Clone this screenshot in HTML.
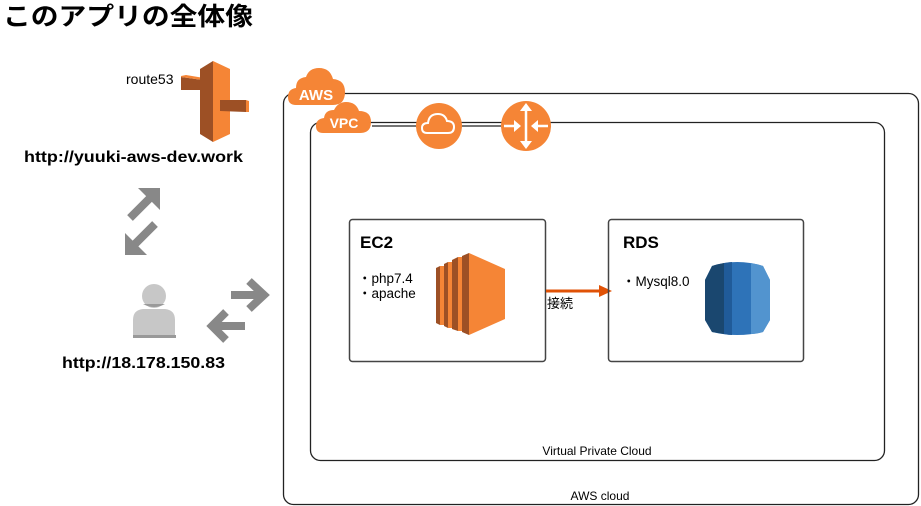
<!DOCTYPE html>
<html><head><meta charset="utf-8"><style>
html,body{margin:0;padding:0;background:#fff;}
svg{display:block;font-family:"Liberation Sans","Noto Sans CJK JP",sans-serif;}
</style></head><body>
<svg width="921" height="506" viewBox="0 0 921 506" xmlns="http://www.w3.org/2000/svg">
<text x="3" y="25" font-size="25" font-weight="bold" fill="#000" textLength="250" lengthAdjust="spacingAndGlyphs">このアプリの全体像</text>

<!-- route53 -->
<text x="126" y="84" font-size="14" fill="#000">route53</text>
<polygon points="181,77 210,81 210,90 181,90" fill="#9d5025"/>
<polygon points="181,76 186,75 210,79 210,81 181,77" fill="#f58536"/>
<polygon points="200,69 213,61 213,142 200,134" fill="#9d5025"/>
<polygon points="213,61 230,69 230,134 213,142" fill="#f58536"/>
<polygon points="220,100 246,100 246,112 220,111" fill="#9d5025"/>
<polygon points="246,100 249,101 249,112 246,112" fill="#f58536"/>
<text x="24" y="162" font-size="16" font-weight="bold" fill="#000" textLength="219" lengthAdjust="spacingAndGlyphs">http://yuuki-aws-dev.work</text>

<!-- diagonal arrows -->
<g fill="#888" stroke="#888">
<line x1="130" y1="218" x2="151" y2="197" stroke-width="8"/>
<polygon points="138,188 160,188 160,210" stroke="none"/>
<line x1="155" y1="224" x2="134" y2="245" stroke-width="8"/>
<polygon points="125,233 125,255 147,255" stroke="none"/>
</g>

<!-- user -->
<circle cx="154" cy="296" r="12" fill="#c7c7c7"/>
<path d="M143,304 q11,6 22,0" fill="#9a9a9a"/>
<path d="M133,338 v-18 q0,-10 10,-11 h22 q10,1 10,11 v18 z" fill="#c7c7c7"/>
<rect x="133" y="335" width="43" height="3" fill="#999"/>
<text x="62" y="368" font-size="16" font-weight="bold" fill="#000" textLength="163" lengthAdjust="spacingAndGlyphs">http://18.178.150.83</text>

<!-- horizontal arrows -->
<g fill="none" stroke="#888" stroke-width="8">
<line x1="231" y1="295" x2="262" y2="295"/>
<polyline points="249,281 264,295 249,309" stroke-linejoin="miter"/>
<line x1="245" y1="326" x2="214" y2="326"/>
<polyline points="226,312 212,326 226,340" stroke-linejoin="miter"/>
</g>

<!-- AWS cloud box -->
<rect x="283.5" y="93.5" width="635" height="411" rx="10" fill="none" stroke="#222" stroke-width="1.3"/>
<text x="600" y="500" font-size="12" text-anchor="middle" fill="#000">AWS cloud</text>
<!-- AWS icon -->
<path d="M296,105 q-8,0 -8,-8 q0,-8 8,-9 q0,-10 10,-11 q3,-9 13,-9 q11,0 14,11 q12,1 12,13 q0,13 -12,13 z" fill="#f58536"/>
<text x="316" y="100" font-size="15" font-weight="bold" text-anchor="middle" fill="#fff">AWS</text>

<!-- VPC box -->
<rect x="310.5" y="122.5" width="574" height="338" rx="10" fill="#fff" stroke="#222" stroke-width="1.3"/>
<text x="597" y="455" font-size="12" text-anchor="middle" fill="#000">Virtual Private Cloud</text>
<path d="M323,133 q-7,0 -7,-7 q0,-7 8,-8 q1,-8 10,-8 q4,-8 12,-8 q10,0 13,9 q12,0 12,11 q0,11 -11,11 z" fill="#f58536"/>
<text x="344" y="128" font-size="14" font-weight="bold" text-anchor="middle" fill="#fff">VPC</text>
<line x1="372" y1="126" x2="416" y2="126" stroke="#222" stroke-width="1.3"/>
<line x1="462" y1="126" x2="501" y2="126" stroke="#222" stroke-width="1.3"/>
<circle cx="439" cy="126" r="23" fill="#f58536"/>
<path d="M427,133 q-5,0 -5,-5 q0,-5 6,-5 q1,-9 10,-9 q7,0 9,7 q7,0 7,6 q0,6 -6,6 z" fill="none" stroke="#fff" stroke-width="2"/>
<circle cx="526" cy="126" r="25" fill="#f58536"/>
<g stroke="#fff" stroke-width="2.5" fill="#fff">
<line x1="526" y1="106" x2="526" y2="146"/>
<polygon points="520,111 526,103 532,111" stroke="none"/>
<polygon points="520,141 526,149 532,141" stroke="none"/>
<line x1="504" y1="126" x2="516" y2="126"/>
<polygon points="514,120 521,126 514,132" stroke="none"/>
<line x1="536" y1="126" x2="548" y2="126"/>
<polygon points="538,120 531,126 538,132" stroke="none"/>
</g>

<!-- EC2 box -->
<rect x="349.5" y="219.5" width="196" height="142" rx="3" fill="none" stroke="#444" stroke-width="1.5"/>
<text x="360" y="248" font-size="17" font-weight="bold" fill="#000">EC2</text>
<text x="358" y="283" font-size="13.5" fill="#000">・php7.4</text>
<text x="358" y="298" font-size="13.5" fill="#000">・apache</text>
<g>
<polygon points="436,268 440,266 440,325 436,323" fill="#9d5025"/>
<polygon points="440,266 444,266 444,325 440,325" fill="#f58536"/>
<polygon points="444,264 448,262 448,328 444,326" fill="#9d5025"/>
<polygon points="448,262 452,262 452,328 448,328" fill="#f58536"/>
<polygon points="452,260 458,257 458,331 452,329" fill="#9d5025"/>
<polygon points="458,257 462,257 462,331 458,331" fill="#f58536"/>
<polygon points="462,256 469,253 469,335 462,332" fill="#9d5025"/>
<polygon points="469,253 505,269 505,319 469,335" fill="#f58536"/>
</g>

<!-- connector -->
<line x1="546" y1="291" x2="600" y2="291" stroke="#e05206" stroke-width="3"/>
<polygon points="599,285 612,291 599,297" fill="#e05206"/>
<text x="547" y="308" font-size="13" fill="#000">接続</text>

<!-- RDS box -->
<rect x="608.5" y="219.5" width="195" height="142" rx="3" fill="none" stroke="#444" stroke-width="1.5"/>
<text x="623" y="248" font-size="17" font-weight="bold" fill="#000">RDS</text>
<text x="622" y="286" font-size="13.5" fill="#000">・Mysql8.0</text>
<g>
<path d="M712,266 q25,-8 51,0 l7,14 v40 l-7,12 q-26,6 -51,0 l-7,-12 v-40 z" fill="#2e73b8"/>
<path d="M712,266 q6,-2 12,-3 v71 q-6,-1 -12,-2 l-7,-12 v-40 z" fill="#1a476f"/>
<path d="M724,263 q6,-1 8,-1 v73 q-4,0 -8,-1 z" fill="#205b99"/>
<path d="M751,263 q6,1 12,3 l7,14 v40 l-7,12 q-6,2 -12,2 z" fill="#5294cf"/>
</g>
</svg>
</body></html>
